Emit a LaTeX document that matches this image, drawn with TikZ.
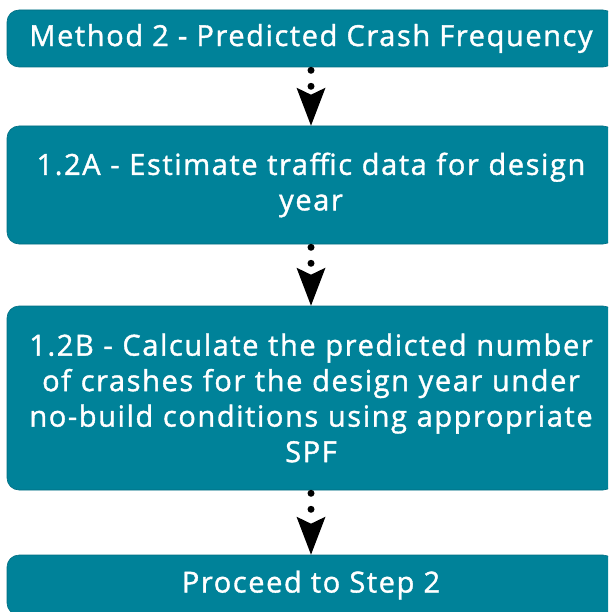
\documentclass[tikz,border=0pt]{standalone}
\usepackage{fontspec}
\setmainfont{Open Sans}[FakeBold=1.3, LetterSpace=5.5]
\usetikzlibrary{arrows.meta}
\definecolor{boxteal}{RGB}{0,130,153}
\tikzset{
  stepbox/.style={fill=boxteal, draw=boxteal!85!black, line width=0.6pt,
    rounded corners=12pt, text=white, align=center, inner sep=0pt,
    font=\fontsize{29}{35.5}\selectfont},
  flow/.style={line width=7pt, line cap=round, dash pattern=on 0pt off 16pt,
    dash phase=13pt,
    -{Stealth[length=38pt, width=29pt, inset=7pt, line width=0pt, sep=0pt]}}
}
\begin{document}
\begin{tikzpicture}[x=1pt, y=-1pt]
  \useasboundingbox (0,0) rectangle (608,612);
  \begin{scope}
    \clip (0,0) rectangle (608,612);
    \node[stepbox, minimum width=608pt, minimum height=57pt] (m2) at (311,38.5)
      {Method 2 - Predicted Crash Frequency};
    \node[stepbox, minimum width=608pt, minimum height=118pt, text width=600pt] (s2a) at (311,185)
      {1.2A - Estimate traffic data for design\\ year};
    \node[stepbox, minimum width=608pt, minimum height=184pt, text width=600pt] (s2b) at (311,398)
      {1.2B - Calculate the predicted number\\ of crashes for the design year under\\ no-build conditions using appropriate\\ SPF};
    \node[stepbox, minimum width=608pt, minimum height=60pt] (next) at (311,585)
      {Proceed to Step 2};
  \end{scope}
  \draw[flow] (m2.south) -- (s2a.north);
  \draw[flow] (s2a.south) -- (s2b.north);
  \draw[flow] (s2b.south) -- (next.north);
\end{tikzpicture}
\end{document}
